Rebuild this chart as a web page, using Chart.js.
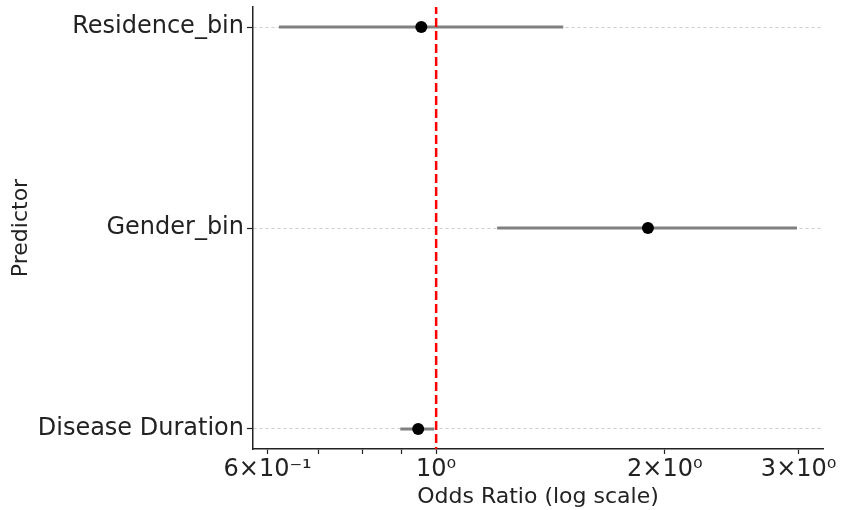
<!DOCTYPE html>
<html>
<head>
<meta charset="utf-8">
<script src="https://cdn.jsdelivr.net/npm/chart.js@4.4.0/dist/chart.umd.min.js"></script>
<style>
html,body{margin:0;padding:0;background:#fff;}
#c{display:block;}
</style>
</head>
<body>
<canvas id="c" width="842" height="510"></canvas>
<script>
// Data
const predictors = ["Disease Duration", "Gender_bin", "Residence_bin"]; // bottom -> top
const oddsRatio = [0.947, 1.90, 0.956];
const ciLow = [0.897, 1.203, 0.621];
const ciHigh = [0.994, 2.985, 1.47];
const refValue = 1.0;
const xTickValues = [0.6, 0.7, 0.8, 0.9, 1, 2, 3];
const xTickLabels = ["6\u00d710\u207b\u00b9", "", "", "", "10\u2070", "2\u00d710\u2070", "3\u00d710\u2070"];

const TEXT = '#222222';
const FONT = "'DejaVu Sans', sans-serif";

const datasets = [];
// reference line
datasets.push({
  type: 'line',
  data: [{x: refValue, y: -0.2}, {x: refValue, y: 2.2}],
  borderColor: '#ff0000',
  borderWidth: 2.5,
  borderDash: [9, 4],
  pointRadius: 0,
  order: 0
});
// points
datasets.push({
  type: 'scatter',
  data: oddsRatio.map((v, i) => ({x: v, y: i})),
  backgroundColor: '#000000',
  borderColor: '#000000',
  pointRadius: 6,
  pointBorderWidth: 0,
  order: 1
});
// error bars
predictors.forEach((p, i) => {
  datasets.push({
    type: 'line',
    data: [{x: ciLow[i], y: i}, {x: ciHigh[i], y: i}],
    borderColor: '#808080',
    borderWidth: 3,
    pointRadius: 0,
    order: 2
  });
});

new Chart(document.getElementById('c'), {
  type: 'scatter',
  data: {datasets},
  options: {
    responsive: false,
    animation: false,
    layout: {padding: {top: 7, right: 19, left: 0, bottom: 0}},
    plugins: {legend: {display: false}, tooltip: {enabled: false}, title: {display: false}},
    scales: {
      x: {
        type: 'logarithmic',
        min: 0.574,
        max: 3.23,
        afterBuildTicks: s => { s.ticks = xTickValues.map(v => ({value: v})); },
        afterFit: s => { s.height = 61; s.paddingLeft = 0; s.paddingRight = 0; },
        ticks: {
          autoSkip: false, maxRotation: 0, padding: 1,
          color: TEXT, font: {family: FONT, size: 24},
          callback: function(v) { const i = xTickValues.indexOf(v); return i >= 0 ? xTickLabels[i] : ''; }
        },
        grid: {drawOnChartArea: false, drawTicks: true, tickLength: 5, tickColor: TEXT, tickWidth: 1.2},
        border: {display: true, color: TEXT, width: 1.5},
        title: {display: true, text: 'Odds Ratio (log scale)', color: TEXT, font: {family: FONT, size: 22}, padding: {top: 0, bottom: 0}}
      },
      y: {
        type: 'linear',
        min: -0.1,
        max: 2.1,
        afterBuildTicks: s => { s.ticks = predictors.map((p, i) => ({value: i})); },
        afterFit: s => { s.width = 253; s.paddingTop = 0; s.paddingBottom = 0; },
        ticks: {
          padding: 3, color: TEXT, font: {family: FONT, size: 24},
          callback: v => predictors[v] !== undefined ? predictors[v] : ''
        },
        grid: {color: '#cccccc', lineWidth: 1, drawTicks: true, tickLength: 6, tickColor: TEXT, tickWidth: 1.2},
        border: {display: true, color: TEXT, width: 1.5, dash: [3, 3]},
        title: {display: true, text: 'Predictor', color: TEXT, font: {family: FONT, size: 22}, padding: {top: 8, bottom: 0}}
      }
    }
  }
});
</script>
</body>
</html>
